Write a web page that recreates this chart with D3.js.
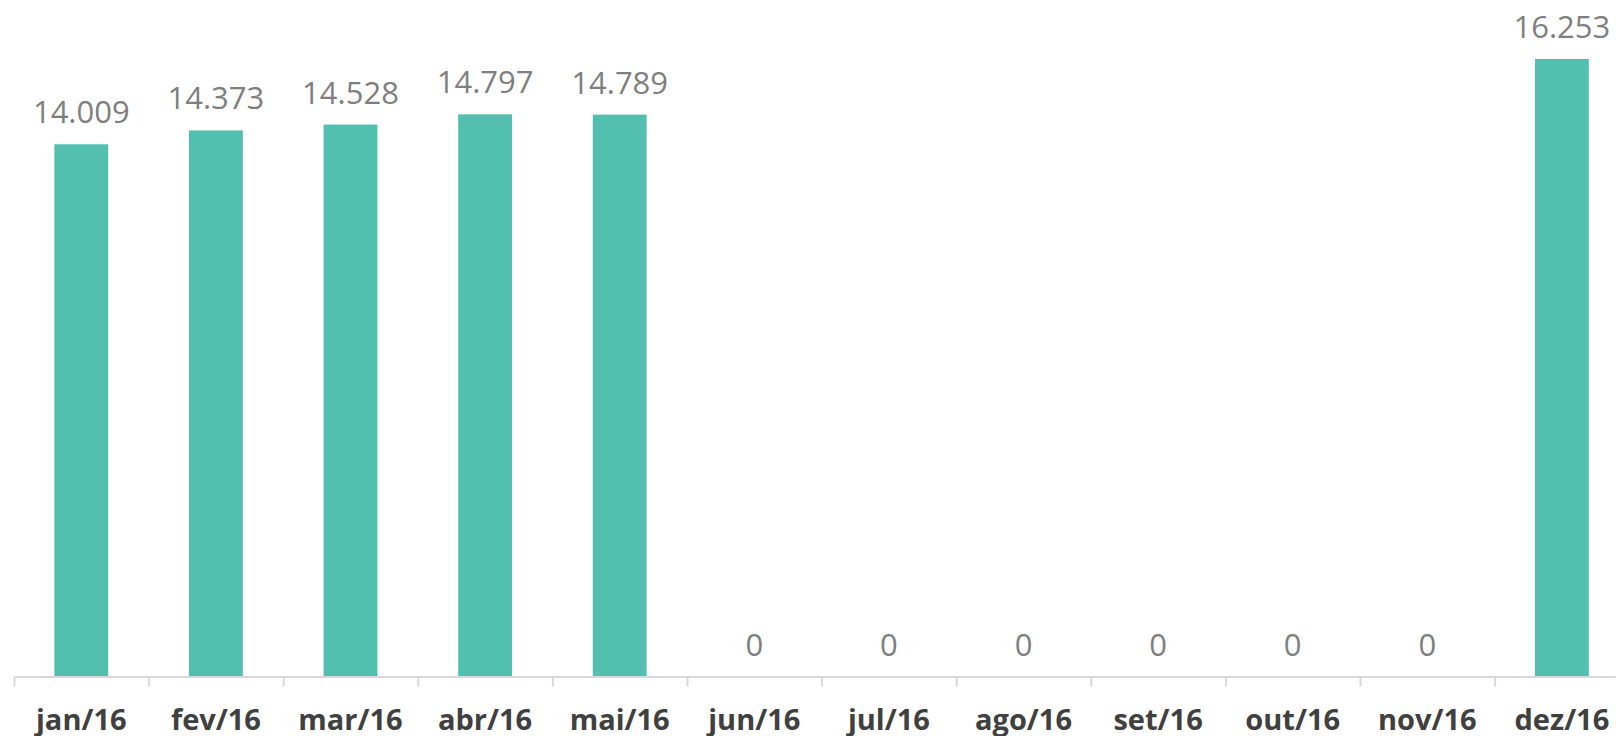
<!DOCTYPE html>
<html>
<head>
<meta charset="utf-8">
<script src="https://cdn.jsdelivr.net/npm/d3@7"></script>
<style>
  body { margin: 0; background: #fff; }
  svg { display: block; }
</style>
</head>
<body>
<div id="chart"></div>
<script>
// Monthly values, 2016
const MONTHS = ["jan/16", "fev/16", "mar/16", "abr/16", "mai/16", "jun/16",
                "jul/16", "ago/16", "set/16", "out/16", "nov/16", "dez/16"];
const VALUES = [14009, 14373, 14528, 14797, 14789, 0, 0, 0, 0, 0, 0, 16253];

const FRAME_WIDTH = 1616;
const FRAME_HEIGHT = 736;
const AXIS_Y = 676.5;
const LEFT = 14;
const STEP = 134.6;

// pt-BR style thousands separator
const ptBR = d3.formatLocale({decimal: ",", thousands: ".", grouping: [3], currency: ["R$", ""]});
const fmt = ptBR.format(",");

const svg = d3.select("#chart").append("svg")
    .attr("width", FRAME_WIDTH)
    .attr("height", FRAME_HEIGHT);

const xSCALE = d3.scaleBand()
    .domain(MONTHS)
    .range([LEFT, LEFT + STEP * MONTHS.length])
    .paddingInner(0.6)
    .paddingOuter(0.3);

// boundary positions for the small separator ticks
const xEDGES = d3.scaleLinear()
    .domain([0, MONTHS.length])
    .range([LEFT, LEFT + STEP * MONTHS.length]);

const ySCALE = d3.scaleLinear()
    .domain([0, d3.max(VALUES)])
    .range([AXIS_Y, 59]);

const data = MONTHS.map((m, i) => ({month: m, value: VALUES[i]}));

// bars
svg.selectAll("rect.bar")
    .data(data)
    .enter()
    .append("rect")
    .attr("class", "bar")
    .attr("x", (d) => xSCALE(d.month))
    .attr("y", (d) => ySCALE(d.value))
    .attr("width", xSCALE.bandwidth())
    .attr("height", (d) => AXIS_Y - ySCALE(d.value))
    .style("fill", "#53bfaf");

// value labels
svg.selectAll("text.val")
    .data(data)
    .enter()
    .append("text")
    .attr("class", "val")
    .attr("x", (d) => xSCALE(d.month) + xSCALE.bandwidth() / 2)
    .attr("y", (d) => ySCALE(d.value) - 21)
    .attr("text-anchor", "middle")
    .style("font-family", "'Open Sans', sans-serif")
    .style("font-size", "31px")
    .style("fill", "#7f7f7f")
    .text((d) => fmt(d.value));

// axis line + separator ticks
const edgeAxis = svg.append("g")
    .attr("transform", "translate(0," + AXIS_Y + ")")
    .call(d3.axisBottom(xEDGES)
        .tickValues(d3.range(MONTHS.length + 1))
        .tickFormat("")
        .tickSize(10)
        .tickSizeOuter(0));
edgeAxis.select(".domain").attr("stroke", "#d9d9d9").attr("stroke-width", 2);
edgeAxis.selectAll(".tick line").attr("stroke", "#d9d9d9").attr("stroke-width", 2);

// month labels
const labelAxis = svg.append("g")
    .attr("transform", "translate(0," + AXIS_Y + ")")
    .call(d3.axisBottom(xSCALE).tickSize(0));
labelAxis.select(".domain").remove();
labelAxis.selectAll("text")
    .attr("y", 53)
    .attr("dy", 0)
    .style("font-family", "'Open Sans', sans-serif")
    .style("font-weight", "bold")
    .style("font-size", "29px")
    .style("fill", "#404040");
</script>
</body>
</html>
